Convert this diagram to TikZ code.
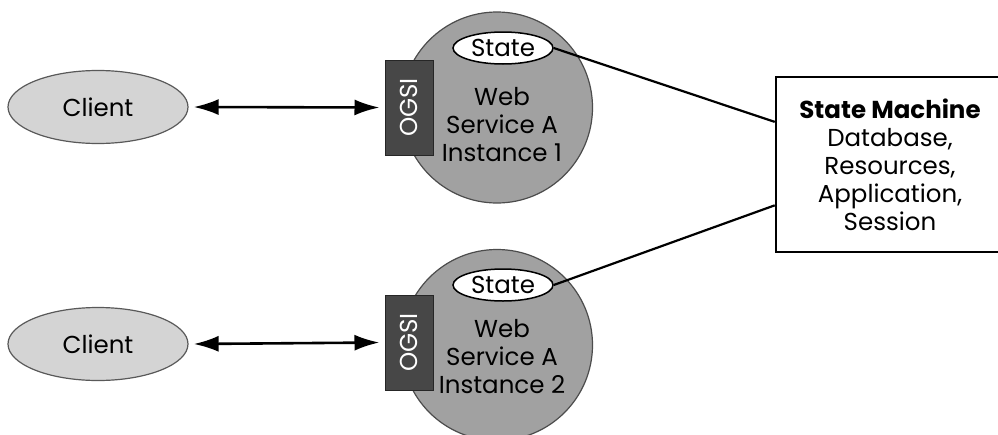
\documentclass[tikz,border=0pt]{standalone}
\usepackage{fontspec}
\setmainfont{Poppins}
\usetikzlibrary{arrows.meta,shapes.geometric,calc}
\tikzset{
  client/.style={ellipse, draw=black!65, fill=black!17, line width=1.2pt,
    minimum width=180pt, minimum height=73pt, inner sep=0pt},
  svc/.style={circle, draw=black!70, fill=black!37, line width=1.2pt,
    minimum size=191pt, inner sep=0pt},
  ogsi/.style={draw=black!85, fill=black!72, text=white, line width=1pt,
    minimum width=48pt, minimum height=95pt, inner sep=0pt},
  statenode/.style={ellipse, draw=black, fill=white, line width=1.5pt,
    minimum width=100pt, minimum height=32pt, inner sep=0pt},
  svctext/.style={align=center, inner sep=0pt},
  smbox/.style={draw=black, fill=white, line width=2.5pt, align=center,
    minimum width=228pt, minimum height=175pt, inner sep=0pt},
  link/.style={line width=2.2pt},
  both/.style={line width=2.6pt, {Latex[length=25pt,width=16pt]}-{Latex[length=25pt,width=16pt]}}
}

\begin{document}
\begin{tikzpicture}[x=1pt, y=-1pt, font=\fontsize{24.5}{28}\selectfont]
    \clip (0,0) rectangle (998,434);
    \fill[white] (0,0) rectangle (998,434);

    % clients
    \node[client] (client1) at (98,107) {Client};
    \node[client] (client2) at (98,344) {Client};

    % service instances
    \node[svc] (svc1) at (497,107.5) {};
    \node[svc] (svc2) at (497,345) {};

    \node[ogsi] (ogsi1) at (409,107.5) {\rotatebox{90}{OGSI}};
    \node[ogsi] (ogsi2) at (409,342.5) {\rotatebox{90}{OGSI}};

    \node[statenode] (st1) at (503,48) {State};
    \node[statenode] (st2) at (503,285) {State};

    \node[svctext] (web1) at (502,125) {Web\\Service A\\Instance 1};
    \node[svctext] (web2) at (502,357) {Web\\Service A\\Instance 2};

    % state machine
    \node[smbox] (sm) at (890,164.5) {\textbf{State Machine}\\Database,\\Resources,\\Application,\\Session};

    \draw[both] ([xshift=5pt]client1.east) -- ([xshift=-5pt]ogsi1.west);
    \draw[both] ([xshift=5pt]client2.east) -- ([xshift=-5pt]ogsi2.west);

    \draw[link] (st1.east) -- ($(sm.north west)!0.26!(sm.south west)$);
    \draw[link] (st2.east) -- ($(sm.north west)!0.73!(sm.south west)$);
\end{tikzpicture}
\end{document}
